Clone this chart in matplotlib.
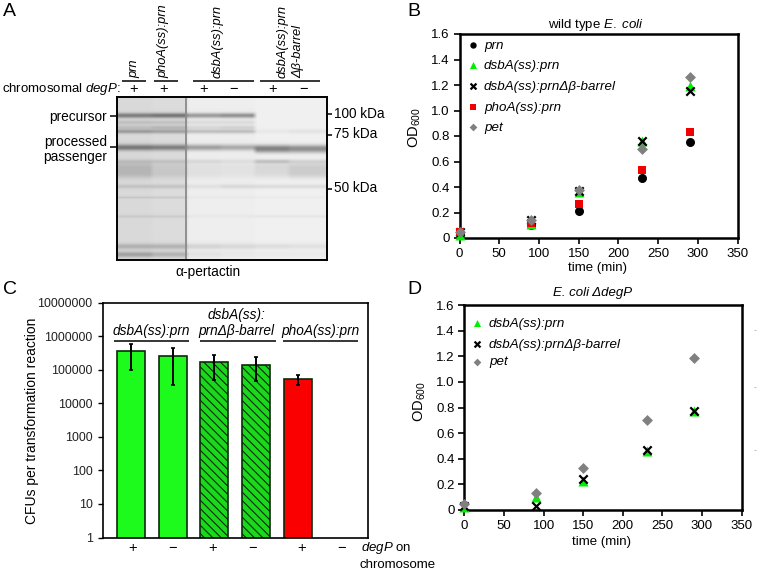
import numpy as np
import matplotlib
matplotlib.use('Agg')
import matplotlib.pyplot as plt

plt.rcParams['font.family'] = ['Liberation Sans', 'DejaVu Sans']
plt.rcParams['mathtext.fontset'] = 'custom'
plt.rcParams['mathtext.rm'] = 'Liberation Sans'
plt.rcParams['mathtext.it'] = 'Liberation Sans:italic'
plt.rcParams['hatch.linewidth'] = 0.8

W, H = 758, 572

# growth curves, panel B
time_min = [0, 90, 150, 230, 290]
b_prn = [0.04, 0.10, 0.21, 0.47, 0.755]
b_dsba = [0.02, 0.11, 0.36, 0.76, 1.19]
b_dsba_dbarrel = [0.05, 0.14, 0.37, 0.76, 1.15]
b_phoa = [0.05, 0.12, 0.27, 0.53, 0.83]
b_pet = [0.05, 0.145, 0.375, 0.70, 1.26]

# growth curves, panel D
d_dsba = [0.02, 0.10, 0.23, 0.46, 0.77]
d_dsba_dbarrel = [0.03, 0.03, 0.245, 0.465, 0.77]
d_pet = [0.05, 0.135, 0.325, 0.705, 1.19]

od_ticks = [0, 0.2, 0.4, 0.6, 0.8, 1.0, 1.2, 1.4, 1.6]
od_labels = ['0', '0.2', '0.4', '0.6', '0.8', '1.0', '1.2', '1.4', '1.6']
time_ticks = [0, 50, 100, 150, 200, 250, 300, 350]

# transformation efficiency, panel C
cfu = [350000, 250000, 165000, 140000, 52000]
cfu_high = [600000, 450000, 270000, 230000, 68000]
cfu_low = [95000, 36000, 50000, 46000, 36000]
cfu_colors = ['#1cfb1c', '#1cfb1c', '#1cd81c', '#1cd81c', '#fb0000']
cfu_hatch = ['', '', '\\\\\\\\', '\\\\\\\\', '']
cfu_ticks = [1, 10, 100, 1000, 10000, 100000, 1000000, 10000000]
degp_signs = ['+', '\u2212', '+', '\u2212', '+', '\u2212']

# blot, panel A: lane edges and bands (row, width, darkness per lane)
lane_edges = [(0, 35), (35, 70), (70, 104), (104, 138), (138, 172), (172, 211)]
lane_shade = [0.11, 0.10, 0.03, 0.03, 0.02, 0.02]
bands = [
    (19, 1.8, [0.36, 0.40, 0.32, 0.36, 0.00, 0.00]),
    (26, 1.5, [0.10, 0.10, 0.07, 0.07, 0.00, 0.00]),
    (31, 1.5, [0.10, 0.14, 0.08, 0.10, 0.00, 0.00]),
    (35, 1.5, [0.24, 0.22, 0.18, 0.18, 0.03, 0.05]),
    (51, 2.2, [0.38, 0.36, 0.30, 0.26, 0.30, 0.26]),
    (54, 2.2, [0.00, 0.00, 0.00, 0.00, 0.24, 0.22]),
    (65, 1.5, [0.08, 0.08, 0.07, 0.05, 0.16, 0.08]),
    (71, 4.0, [0.13, 0.07, 0.05, 0.04, 0.09, 0.13]),
    (78, 3.0, [0.10, 0.06, 0.04, 0.03, 0.06, 0.10]),
    (90, 1.5, [0.09, 0.09, 0.05, 0.08, 0.08, 0.08]),
    (101, 0.8, [0.07, 0.07, 0.02, 0.02, 0.02, 0.02]),
    (120, 1.0, [0.06, 0.06, 0.02, 0.02, 0.04, 0.04]),
    (150, 2.0, [0.16, 0.16, 0.10, 0.08, 0.07, 0.06]),
    (158, 2.0, [0.22, 0.16, 0.04, 0.02, 0.02, 0.02]),
]

fig = plt.figure(figsize=(W / 100, H / 100), dpi=100)


def add_axes_px(left, top, right, bottom):
    return fig.add_axes([left / W, 1 - bottom / H, (right - left) / W, (bottom - top) / H])


# panel A
ax_a = add_axes_px(116.5, 97, 326.5, 259.5)
gel = np.ones((163, 211)) * 0.96
rows = np.arange(163)
for (x0, x1), shade in zip(lane_edges, lane_shade):
    gel[:, x0:x1] -= shade
for row, width, dark in bands:
    profile = np.exp(-0.5 * ((rows - row) / width) ** 2)
    for (x0, x1), d in zip(lane_edges, dark):
        gel[:, x0:x1] -= d * profile[:, None]
# soften lane edges a little, scanned blot has no hard borders
kernel = np.ones(5) / 5
gel = np.array([np.convolve(np.pad(r, 2, mode='edge'), kernel, mode='valid') for r in gel])
ax_a.imshow(gel, cmap='gray', vmin=0, vmax=1, aspect='auto', interpolation='bilinear')
ax_a.axvline(69.5, color='#8a8a8a', lw=1.3)
ax_a.set_xticks([])
ax_a.set_yticks([])
for s in ax_a.spines.values():
    s.set_linewidth(1.4)

# panel C
ax_c = add_axes_px(103, 302.5, 367.5, 537.5)
pos = range(len(cfu))
yerr = [[c - l for c, l in zip(cfu, cfu_low)], [h - c for c, h in zip(cfu, cfu_high)]]
for i in pos:
    ax_c.bar(i, cfu[i], 0.67, color=cfu_colors[i], edgecolor='#0a2a0a', lw=1.2,
             hatch=cfu_hatch[i], bottom=0)
ax_c.errorbar(list(pos), cfu, yerr=yerr, fmt='none', ecolor='black', elinewidth=1.4,
              capsize=1.5, capthick=1.2, zorder=5)
ax_c.set_yscale('log')
ax_c.set_ylim(1, 10000000)
ax_c.set_xlim(-0.665, 5.67)
ax_c.set_yticks(cfu_ticks, [str(v) for v in cfu_ticks], fontsize=8.9, color='#222222')
ax_c.minorticks_off()
ax_c.set_xticks([])
ax_c.tick_params(axis='y', length=3.5, width=1, pad=4)
for s in ax_c.spines.values():
    s.set_linewidth(1.2)


def growth_axes(left, top, right, bottom):
    ax = add_axes_px(left, top, right, bottom)
    ax.set_xlim(0, 350)
    ax.set_ylim(0, 1.6)
    ax.set_xticks(time_ticks)
    ax.set_yticks(od_ticks, od_labels)
    ax.tick_params(length=4, width=1.2, labelsize=9.5, pad=3)
    for s in ax.spines.values():
        s.set_linewidth(1.8)
    return ax


styles = {
    'prn': dict(marker='o', color='black', s=42, lw=0),
    'dsba': dict(marker='^', color='#00f000', s=52, lw=0),
    'dbarrel': dict(marker='x', color='black', s=36, lw=1.6),
    'phoa': dict(marker='s', color='#f00000', s=33, lw=0),
    'pet': dict(marker='D', color='#808080', s=31, lw=0),
}

# panel B
ax_b = growth_axes(459.5, 34, 737.5, 238)
for key, vals in [('prn', b_prn), ('dsba', b_dsba), ('dbarrel', b_dsba_dbarrel),
                  ('phoa', b_phoa), ('pet', b_pet)]:
    ax_b.scatter(time_min, vals, clip_on=False, zorder=4, **styles[key])

# panel D
ax_d = growth_axes(464.5, 305, 741.5, 510)
for key, vals in [('dsba', d_dsba), ('dbarrel', d_dsba_dbarrel), ('pet', d_pet)]:
    ax_d.scatter(time_min, vals, clip_on=False, zorder=4, **styles[key])

# overlay in pixel coordinates for labels and rules
ov = fig.add_axes([0, 0, 1, 1], facecolor='none')
ov.set_xlim(0, W)
ov.set_ylim(H, 0)
ov.axis('off')


def label(x, y, s, ha='left', size=9.5, **kw):
    ov.text(x, y, s, ha=ha, va='center', fontsize=size, **kw)


def rule(x0, x1, y0, lw=1.1, color='black'):
    ov.plot([x0, x1], [y0, y0], color=color, lw=lw, solid_capstyle='butt')


for x, y, s in [(3, 11, 'A'), (407, 11, 'B'), (3, 289, 'C'), (407, 289, 'D')]:
    label(x, y, s, size=14)

# panel A labels
for x, s in [(134, 'prn'), (163, 'phoA(ss):prn'), (218, 'dsbA(ss):prn'), (283, 'dsbA(ss):prn'),
             (298, '\u0394\u03b2-barrel')]:
    ov.text(x, 78, s, rotation=90, ha='center', va='bottom', fontsize=9.3, style='italic')
for x0, x1 in [(122, 146), (154, 178), (193, 254), (260, 320)]:
    rule(x0, x1, 80.7)
for x, s in zip([134, 164, 204, 233, 273, 303], ['+', '+', '+', '\u2212', '+', '\u2212']):
    label(x, 89, s, ha='center', size=10.5)
label(121, 89, 'chromosomal $\\mathit{degP}$:', ha='right', size=9.5)
label(107, 117, 'precursor', ha='right', size=9.8)
label(107, 142, 'processed', ha='right', size=9.8)
label(107, 157, 'passenger', ha='right', size=9.8)
rule(110, 116, 116)
rule(110, 116, 147)
for y, s in [(113.5, '100 kDa'), (134.5, '75 kDa'), (188.5, '50 kDa')]:
    rule(327, 332, y)
    label(334, y, s, size=9.8)
label(208, 272, '\u03b1-pertactin', ha='center', size=9.8)

# panel C labels
label(32, 421, 'CFUs per transformation reaction', ha='center', rotation=90, size=10)
label(151.5, 331.5, 'dsbA(ss):prn', ha='center', size=9.8, style='italic')
label(236.5, 315, 'dsbA(ss):', ha='center', size=9.8, style='italic')
label(236.5, 331.5, 'prn\u0394\u03b2-barrel', ha='center', size=9.8, style='italic')
label(320, 331.5, 'phoA(ss):prn', ha='center', size=9.8, style='italic')
for x0, x1 in [(114, 189), (200, 276), (282.5, 358)]:
    rule(x0, x1, 341)
for x, s in zip([132.7, 172.7, 212.7, 252.7, 301.7, 341.7], degp_signs):
    label(x, 548, s, ha='center', size=10.5)
label(361, 548, '$\\mathit{degP}$ on', size=9.5)
label(359, 565, 'chromosome', size=9.5)

# panel B labels and legend
label(596, 25, 'wild type $\\mathit{E.\\ coli}$', ha='center', size=9.5)
label(597, 268, 'time (min)', ha='center', size=9.5)
label(415, 128, 'OD$_{600}$', ha='center', rotation=90, size=10.5)
for key, y, s in [('prn', 44.5, 'prn'), ('dsba', 64.5, 'dsbA(ss):prn'),
                  ('dbarrel', 86, 'dsbA(ss):prn\u0394\u03b2-barrel'),
                  ('phoa', 106.5, 'phoA(ss):prn'), ('pet', 126.5, 'pet')]:
    st = dict(styles[key])
    st['s'] = st['s'] * 0.5
    ov.scatter([473], [y], **st)
    label(484, y + 1, s, size=9.6, style='italic')

# panel D labels and legend
label(593, 293, 'E. coli \u0394degP', ha='center', size=9.5, style='italic')
label(601.5, 542, 'time (min)', ha='center', size=9.5)
label(420, 402, 'OD$_{600}$', ha='center', rotation=90, size=10.5)
for key, y, s in [('dsba', 322.5, 'dsbA(ss):prn'),
                  ('dbarrel', 344, 'dsbA(ss):prn\u0394\u03b2-barrel'), ('pet', 361.5, 'pet')]:
    st = dict(styles[key])
    st['s'] = st['s'] * 0.5
    ov.scatter([477], [y], **st)
    label(489, y + 1, s, size=9.6, style='italic')

# faint specks right of panel D in the source figure
for y in [330, 387, 450]:
    rule(754, 756, y, lw=0.6, color='#b0b0b0')

fig.savefig('out.png', dpi=100)
